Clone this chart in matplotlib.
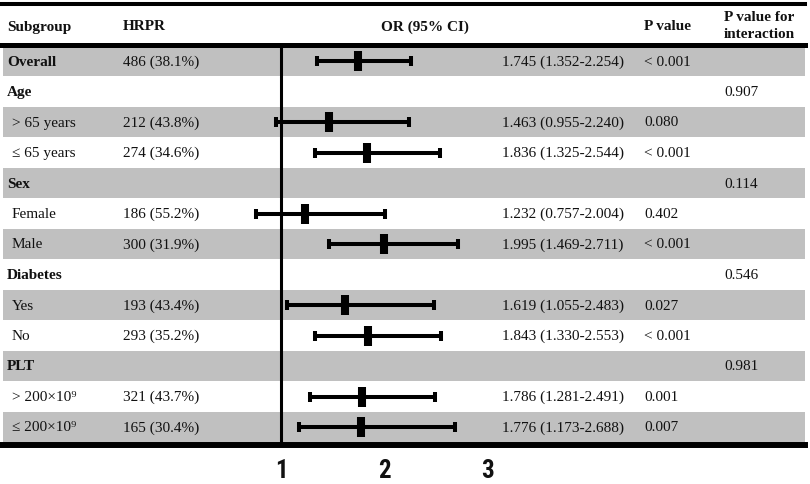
import numpy as np
import matplotlib
matplotlib.use("Agg")
import matplotlib.pyplot as plt
import matplotlib.transforms as mtransforms
from matplotlib import font_manager

# Subgroup table, one entry per row (top to bottom)
labels = ["Overall", "Age", "> 65 years", "\u2264 65 years", "Sex", "Female", "Male",
          "Diabetes", "Yes", "No", "PLT", "> 200\u00d710\u2079", "\u2264 200\u00d710\u2079"]
is_group = [True, True, False, False, True, False, False, True, False, False, True, False, False]
hrpr = ["486 (38.1%)", "", "212 (43.8%)", "274 (34.6%)", "", "186 (55.2%)", "300 (31.9%)",
        "", "193 (43.4%)", "293 (35.2%)", "", "321 (43.7%)", "165 (30.4%)"]
nan = np.nan
or_val = [1.745, nan, 1.463, 1.836, nan, 1.232, 1.995, nan, 1.619, 1.843, nan, 1.786, 1.776]
ci_low = [1.352, nan, 0.955, 1.325, nan, 0.757, 1.469, nan, 1.055, 1.330, nan, 1.281, 1.173]
ci_high = [2.254, nan, 2.240, 2.544, nan, 2.004, 2.711, nan, 2.483, 2.553, nan, 2.491, 2.688]
p_value = ["< 0.001", "", "0.080", "< 0.001", "", "0.402", "< 0.001",
           "", "0.027", "< 0.001", "", "0.001", "0.007"]
p_inter = ["", "0.907", "", "", "0.114", "", "", "0.546", "", "", "0.981", "", ""]
ticks = [1, 2, 3]

W, H = 810, 485
GREY = "#c0c0c0"
INK = "#111111"

# pixel layout of the reference
x_one, px_per_unit = 281.0, 103.3
row0, row_h = 62.0, 30.5


def py(p):
    # pixel row -> data y (row index)
    return (p - row0) / row_h


def fx(p):
    # pixel column -> axes fraction
    return p / W


# narrow bold face for the axis numbers, if one is installed
names = {f.name for f in font_manager.fontManager.ttflist}
tick_family = ["DejaVu Sans"]
for cand in ["Liberation Sans Narrow", "DejaVu Sans Condensed", "Roboto Condensed"]:
    if cand in names:
        tick_family = [cand, "DejaVu Sans"]
        break

plt.rcParams["font.family"] = ["Liberation Serif", "DejaVu Serif"]
fig = plt.figure(figsize=(W / 100, H / 100), dpi=100)
ax = fig.add_axes([0, 0, 1, 1])
ax.set_xlim(1 - x_one / px_per_unit, 1 + (W - x_one) / px_per_unit)
ax.set_ylim(py(H), py(0))
ax.axis("off")

n = len(labels)
rows = np.arange(n)

# grey bands on alternate rows
for i in rows[::2]:
    ax.axhspan(i - 0.5, i + 0.5, xmin=fx(3), xmax=fx(805), color=GREY, lw=0, zorder=0)

# horizontal rules
ax.axhline(py(4.5), xmin=0, xmax=fx(805), color="black", lw=2.9, zorder=3)
ax.axhline(py(45.5), xmin=0, xmax=fx(805), color="black", lw=3.6, zorder=3)
ax.axhline(py(446), xmin=0, xmax=fx(805), color="black", lw=4.3, zorder=3)

# reference line at OR = 1
ax.plot([1, 1], [py(45.5), py(446)], color="black", lw=2.2, zorder=3,
        solid_capstyle="butt")

# confidence intervals and point estimates
or_arr = np.array(or_val)
err = [or_arr - np.array(ci_low), np.array(ci_high) - or_arr]
ax.errorbar(or_arr, rows, xerr=err, fmt="none", ecolor="black", elinewidth=2.9,
            capsize=3.8, capthick=2.9, zorder=4)
ax.plot(or_arr, rows, ls="none", marker="|", ms=14.5, mew=5.8, color="black", zorder=5)

tr = mtransforms.blended_transform_factory(ax.transAxes, ax.transData)
fs = 11

# header
hy = py(27)
ax.text(fx(7), hy, "Subgroup", transform=tr, fontsize=fs, fontweight="bold", va="center", color=INK)
ax.text(fx(123), hy, "HRPR", transform=tr, fontsize=fs, fontweight="bold", va="center", color=INK)
ax.text(fx(425), hy, "OR (95% CI)", transform=tr, fontsize=fs, fontweight="bold",
        va="center", ha="center", color=INK)
ax.text(fx(644), hy, "P value", transform=tr, fontsize=fs, fontweight="bold", va="center", color=INK)
ax.text(fx(724), py(26), "P value for\ninteraction", transform=tr, fontsize=fs, fontweight="bold",
        va="center", linespacing=1.4, color=INK)

# table body
for i in rows:
    if is_group[i]:
        ax.text(fx(7), i, labels[i], transform=tr, fontsize=fs, fontweight="bold",
                va="center", color=INK)
    else:
        ax.text(fx(12), i, labels[i], transform=tr, fontsize=fs, va="center", color=INK)
    ax.text(fx(123), i, hrpr[i], transform=tr, fontsize=fs, va="center", color=INK)
    if not np.isnan(or_val[i]):
        ci_txt = f"{or_val[i]:.3f} ({ci_low[i]:.3f}-{ci_high[i]:.3f})"
        ax.text(fx(502), i, ci_txt, transform=tr, fontsize=fs, va="center", color=INK)
    ax.text(fx(644), i, p_value[i], transform=tr, fontsize=fs, va="center", color=INK)
    ax.text(fx(724), i, p_inter[i], transform=tr, fontsize=fs, va="center", color=INK)

# axis tick labels
for t in ticks:
    ax.text(t, py(471), str(t), fontsize=18, fontweight="bold", ha="center", va="center",
            family=tick_family, fontstretch="condensed", color=INK)

fig.savefig("out.png", dpi=100)
